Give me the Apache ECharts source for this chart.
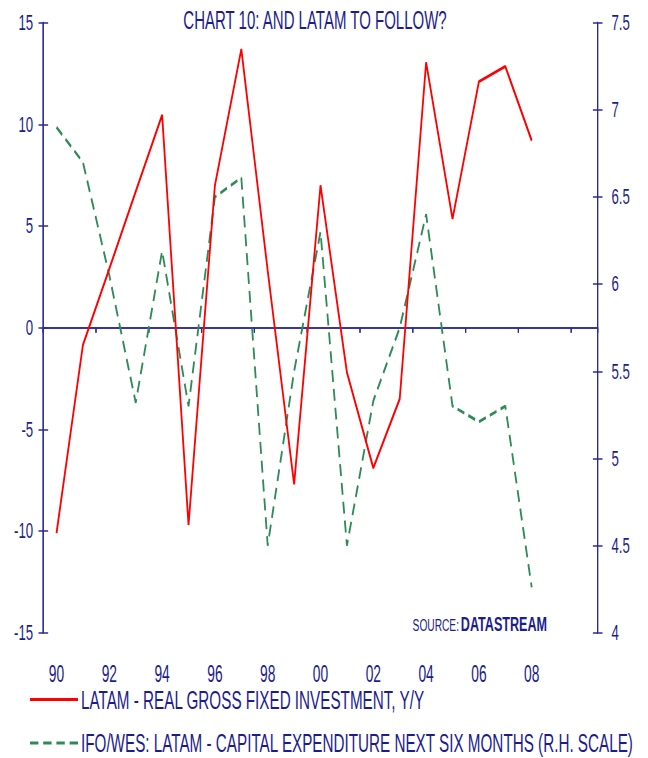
<!DOCTYPE html>
<html>
<head>
<meta charset="utf-8">
<script src="https://cdn.jsdelivr.net/npm/echarts@6/dist/echarts.min.js"></script>
<style>
  html, body { margin: 0; padding: 0; background: #ffffff; overflow: hidden; }
  #wrap { width: 648px; height: 758px; overflow: hidden; }
  #chart { width: 1080px; height: 758px; transform: scaleX(0.6); transform-origin: 0 0; }
</style>
</head>
<body>
<div id="wrap"><div id="chart"></div></div>
<script>
// ---- data ----
const years = ['1990','1991','1992','1993','1994','1995','1996','1997','1998','1999',
               '2000','2001','2002','2003','2004','2005','2006','2007','2008','2009','2010'];
const tickLabels = ['90','92','94','96','98','00','02','04','06','08'];
const investmentYY = [-10.1, -0.85, 2.9, 6.7, 10.46, -9.7, 7.0, 13.7, 2.8, -7.7,
                      7.0, -2.2, -6.9, -3.5, 13.05, 5.35, 12.1, 12.85, 9.2];
const capexNext6M = [6.9, 6.7, 6.05, 5.32, 6.19, 5.3, 6.5, 6.61, 4.5, 5.5,
                     6.3, 4.5, 5.33, 5.75, 6.4, 5.3, 5.21, 5.3, 4.26];
const seriesNames = ['LATAM - REAL GROSS FIXED INVESTMENT, Y/Y',
                     'IFO/WES: LATAM - CAPITAL EXPENDITURE NEXT SIX MONTHS (R.H. SCALE)'];
const titleText = 'CHART 10: AND LATAM TO FOLLOW?';

const NAVY = '#1c1c8e';
const AXIS = '#2a2a9a';
const RED = '#ff0000';
const GREEN = '#2e8b57';
const FONT = '"Liberation Sans", Arial, sans-serif';

const chart = echarts.init(document.getElementById('chart'), null, { renderer: 'svg' });

const yBase = (pos, min, max, interval, labels, inside, margin) => ({
  type: 'value', position: pos, min: min, max: max, interval: interval,
  splitLine: { show: false },
  axisLine: { show: true, lineStyle: { color: AXIS, width: 2 } },
  axisTick: { show: true, inside: inside, length: 8, lineStyle: { color: AXIS, width: 1.5 } },
  axisLabel: { show: labels, color: NAVY, fontFamily: FONT, fontSize: 22, margin: margin }
});

const option = {
  backgroundColor: '#ffffff',
  animation: false,
  grid: { left: 72.2, right: 83.8, top: 22.7, bottom: 125.3, containLabel: false },
  graphic: [
    { type: 'text', x: 525, y: 20,
      style: { text: titleText, fill: NAVY, font: '25px ' + FONT,
               align: 'center', verticalAlign: 'middle', textAlign: 'center', textVerticalAlign: 'middle' } },
    { type: 'text', x: 765, y: 625,
      style: { text: 'SOURCE:', fill: NAVY, font: '17px ' + FONT,
               align: 'right', verticalAlign: 'middle', textAlign: 'right', textVerticalAlign: 'middle' } },
    { type: 'text', x: 768, y: 624,
      style: { text: 'DATASTREAM', fill: NAVY, font: 'bold 21px ' + FONT,
               align: 'left', verticalAlign: 'middle', textAlign: 'left', textVerticalAlign: 'middle' } }
  ],
  legend: {
    orient: 'vertical', left: 50, top: 687, padding: 0, itemWidth: 80, itemHeight: 3, itemGap: 18.5,
    textStyle: { color: NAVY, fontFamily: FONT, fontSize: 25.4 },
    data: [
      { name: seriesNames[0], icon: 'path://M0,0H80V3H0Z', itemStyle: { color: RED } },
      { name: seriesNames[1], icon: 'path://M0,0H14V3H0Z M22,0H36V3H22Z M44,0H58V3H44Z M66,0H80V3H66Z',
        itemStyle: { color: GREEN } }
    ]
  },
  xAxis: [
    { type: 'category', data: years, boundaryGap: true,
      axisLine: { show: true, onZero: true, lineStyle: { color: AXIS, width: 1.5 } },
      axisTick: { show: true, interval: 1, length: 5, lineStyle: { color: AXIS, width: 2 } },
      axisLabel: { show: false }, splitLine: { show: false } },
    { type: 'category', data: years, boundaryGap: true,
      axisLine: { show: true, onZero: true, lineStyle: { color: AXIS, width: 1.5 } },
      axisTick: { show: true, inside: true, interval: 1, length: 5, lineStyle: { color: AXIS, width: 2 } },
      axisLabel: { show: false }, splitLine: { show: false } },
    { type: 'category', data: years, boundaryGap: true, position: 'bottom',
      axisLine: { show: false, onZero: false }, axisTick: { show: false },
      axisLabel: { show: true, interval: 1, color: NAVY, fontFamily: FONT, fontSize: 23, margin: 30,
        formatter: v => { const s = v.slice(2); return tickLabels.indexOf(s) >= 0 ? s : ''; } },
      splitLine: { show: false } }
  ],
  yAxis: [
    yBase('left', -15, 15, 5, true, false, 17),
    yBase('right', 4, 7.5, 0.5, true, false, 23),
    yBase('left', -15, 15, 5, false, true, 8),
    yBase('right', 4, 7.5, 0.5, false, true, 8)
  ],
  series: [
    { name: seriesNames[0], type: 'line', xAxisIndex: 0, yAxisIndex: 0, data: investmentYY,
      symbol: 'none', showSymbol: false, z: 3,
      lineStyle: { color: RED, width: 3 }, itemStyle: { color: RED } },
    { name: seriesNames[1], type: 'line', xAxisIndex: 0, yAxisIndex: 1, data: capexNext6M,
      symbol: 'none', showSymbol: false, z: 2,
      lineStyle: { color: GREEN, width: 3, type: [12, 7] }, itemStyle: { color: GREEN } }
  ]
};
chart.setOption(option);
</script>
</body>
</html>
